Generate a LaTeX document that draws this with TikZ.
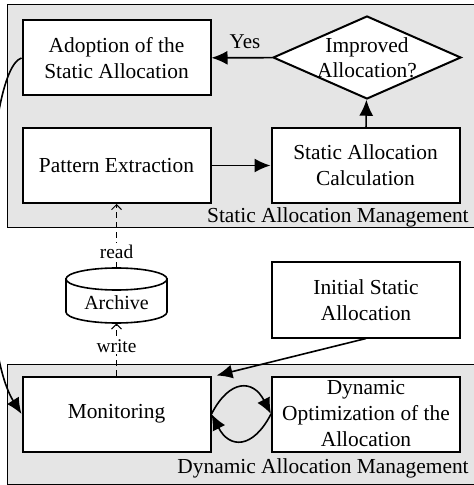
\documentclass[tikz,border=0pt]{standalone}
\usepackage{fontspec}
\setmainfont{Liberation Serif}
\usetikzlibrary{shapes.geometric,arrows.meta}

\tikzset{
  box/.style={draw, line width=1pt, fill=white, minimum width=94pt, minimum height=37.5pt, align=center, inner sep=2pt, font=\fontsize{10.7}{13}\selectfont},
  decision/.style={diamond, draw, line width=1pt, fill=white, minimum width=94pt, minimum height=41.5pt, aspect=2.3, inner sep=-2.5pt, align=center, font=\fontsize{10.7}{12.5}\selectfont},
  store/.style={draw, line width=0.8pt, fill=white},
  storearea/.style={minimum width=50.5pt, minimum height=27.5pt, inner sep=0pt},
  storetext/.style={inner sep=0pt, font=\fontsize{10}{12}\selectfont},
  area/.style={draw, line width=0.5pt, fill=black!10},
  arealabel/.style={anchor=base east, inner sep=0pt, font=\fontsize{10.7}{13}\selectfont},
  arr/.style={line width=0.8pt, -{Latex[length=8pt,width=7pt]}},
  access/.style={line width=0.5pt, dash pattern=on 3pt off 2pt, -{Straight Barb[length=2.5pt,width=5pt]}},
  small/.style={fill=white, inner sep=1pt, font=\fontsize{9.7}{11}\selectfont}
}

\begin{document}
\begin{tikzpicture}[x=0.5pt,y=0.5pt,yscale=-1,xscale=1]
\useasboundingbox (0,0) rectangle (473,485);

%Shape: Rectangle [static allocation management]
\draw [area] (7,5) rectangle (480,228);
%Shape: Rectangle [dynamic allocation management]
\draw [area] (7,364) rectangle (480,484);

% Text Node
\node [arealabel] (smlabel) at (469,223) {Static Allocation Management};
% Text Node
\node [arealabel] (dmlabel) at (469,473) {Dynamic Allocation Management};

%Shape: Rectangle
\node [box] (adopt) at (116.5,58) {Adoption of the\\Static Allocation};
%Shape: Rectangle
\node [box] (pattern) at (116.5,165.5) {Pattern Extraction};
%Shape: Rectangle
\node [box] (calc) at (365.5,165.5) {Static Allocation\\Calculation};
%Shape: Diamond
\node [decision] (improved) at (367,57.5) {Improved\\Allocation?};
%Shape: Rectangle
\node [box] (initial) at (366,300) {Initial Static\\Allocation};
%Shape: Rectangle
\node [box] (monitor) at (116.5,414) {Monitoring};
%Shape: Rectangle
\node [box] (dynopt) at (366,414) {Dynamic\\Optimization of the\\Allocation};

%Shape: Can
\draw [store] (66,279) -- (66,312) .. controls (66,318.1) and (88.6,323) .. (116.5,323) .. controls (144.4,323) and (167,318.1) .. (167,312) -- (167,279) -- cycle;
\draw [store] (116.5,279) ellipse [x radius=50.5, y radius=11];
\node [storearea] (archive) at (116.5,295.5) {};
% Text Node
\node [storetext] (archivetext) at (116.5,303) {Archive};

%Straight Lines
\draw [arr] (pattern) -- (calc);
\draw [arr] (calc) -- (improved);
\draw [arr] (improved) -- node [above, pos=0.45, inner sep=4pt, font=\fontsize{10.5}{12}\selectfont] {Yes} (adopt);
\draw [arr] (initial.south) -- ([xshift=2.5pt]monitor.north east);

%Curve Lines
\draw [arr] (monitor.east) .. controls +(18,-35) and +(-18,-35) .. (dynopt.west);
\draw [arr] (dynopt.west) .. controls +(-18,35) and +(18,35) .. (monitor.east);
\draw [arr] (adopt.west) .. controls (-15,70) and (-25,340) .. (monitor.west);

%Dashed Lines
\draw [access] (archive.north) -- node [small, pos=0.25] {read} (pattern.south);
\draw [access] (monitor.north) -- node [small, pos=0.57] {write} (archive.south);

\end{tikzpicture}
\end{document}
